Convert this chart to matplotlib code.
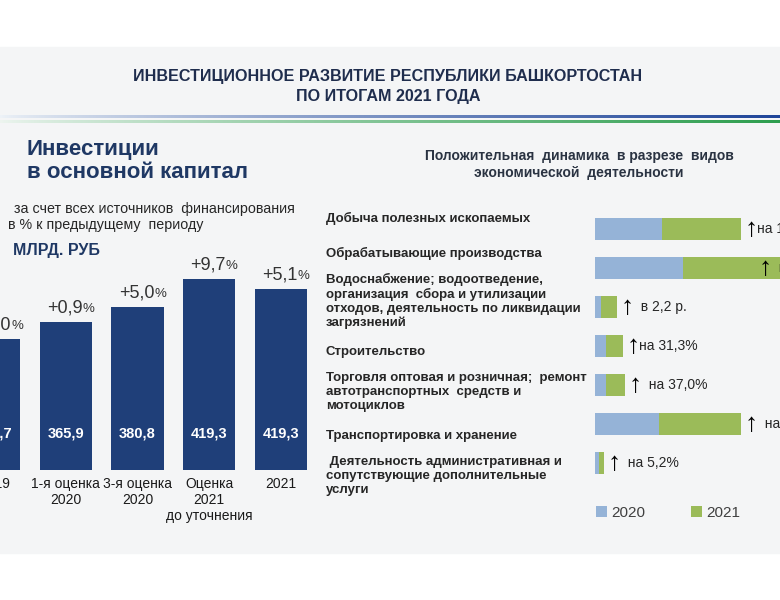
import numpy as np
import matplotlib
matplotlib.use('Agg')
import matplotlib.pyplot as plt
from matplotlib.patches import Rectangle

plt.rcParams['font.family'] = ['Liberation Sans', 'DejaVu Sans']

# Left chart: investments in fixed capital, bln RUB
years = ['2019', '1-я оценка\n2020', '3-я оценка\n2020', 'Оценка\n2021\nдо уточнения', '2021']
amounts = ['362,7', '365,9', '380,8', '419,3', '419,3']
growth = ['+2,0', '+0,9', '+5,0', '+9,7', '+5,1']
# bar levels as drawn on the slide (not to scale with the amounts)
bar_levels = [131, 148, 163, 191, 181]

# Right chart: industries, stacked 2020 / 2021 bars (slide units)
industries = ['Добыча полезных ископаемых',
              'Обрабатывающие производства',
              'Водоснабжение; водоотведение,\nорганизация  сбора и утилизации\nотходов, деятельность по ликвидации\nзагрязнений',
              'Строительство',
              'Торговля оптовая и розничная;  ремонт\nавтотранспортных  средств и\nмотоциклов',
              'Транспортировка и хранение',
              ' Деятельность административная и\nсопутствующие дополнительные\nуслуги']
vals_2020 = [67, 88, 6, 11, 11, 64, 4]
vals_2021 = [79, 150, 16, 17, 19, 82, 5]
change_text = ['на 18,0%', '  на 62,3%', '  в 2,2 р.', 'на 31,3%', '  на 37,0%', '  на 28,4%', '  на 5,2%']

W, H = 780, 600
fig = plt.figure(figsize=(7.8, 6), dpi=100)
fig.patch.set_facecolor('white')

# background axes in pixel coordinates
bg = fig.add_axes([0, 0, 1, 1])
bg.add_patch(Rectangle((0, 47), W, 506, color='#f4f5f6', zorder=0))

# gradient rules under the title
t = np.linspace(0, 1, 300) ** 0.8
for y0, y1, c0, c1 in [(115.5, 118.5, (0.93, 0.95, 0.97), (0.12, 0.27, 0.60)),
                       (121, 123.5, (0.93, 0.96, 0.94), (0.18, 0.62, 0.31))]:
    grad = np.array([[np.array(c0) * (1 - v) + np.array(c1) * v for v in t]])
    bg.imshow(grad, extent=(0, W, y1, y0), aspect='auto', zorder=1)
bg.set_xlim(0, W)
bg.set_ylim(H, 0)
bg.axis('off')

navy = '#1f2d4d'
bg.text(388, 77, 'ИНВЕСТИЦИОННОЕ РАЗВИТИЕ РЕСПУБЛИКИ БАШКОРТОСТАН', ha='center', va='center',
        fontsize=11.6, fontweight='bold', color=navy)
bg.text(388, 97, 'ПО ИТОГАМ 2021 ГОДА', ha='center', va='center',
        fontsize=11.6, fontweight='bold', color=navy)

bg.text(27, 150, 'Инвестиции', ha='left', va='center', fontsize=16, fontweight='bold', color='#1f3864')
bg.text(27, 173, 'в основной капитал', ha='left', va='center', fontsize=16, fontweight='bold', color='#1f3864')
bg.text(14, 209, 'за счет всех источников  финансирования', ha='left', va='center', fontsize=10.3, color='#262626')
bg.text(8, 225, 'в % к предыдущему  периоду', ha='left', va='center', fontsize=10.3, color='#262626')
bg.text(13, 250, 'МЛРД. РУБ', ha='left', va='center', fontsize=11.5, fontweight='bold', color='#1f3864')

bg.text(579, 156, 'Положительная  динамика  в разрезе  видов', ha='center', va='center',
        fontsize=10, fontweight='bold', color='#2a3342')
bg.text(579, 173, 'экономической  деятельности', ha='center', va='center',
        fontsize=10, fontweight='bold', color='#2a3342')

label_y = [219, 254, 280, 353, 379, 437, 463]
for lab, yy in zip(industries, label_y):
    bg.text(326, yy - 7, lab, ha='left', va='top', fontsize=9.5, fontweight='bold',
            color='#262626', linespacing=1.2)

# left bar chart
ax1 = fig.add_axes([-40 / W, 1 - 470 / H, 360 / W, 220 / H])
ax1.patch.set_alpha(0)
x = np.arange(len(years))
ax1.bar(x, bar_levels, width=0.73, color='#1f3f79')
ax1.set_xlim(-0.48, 4.55)
ax1.set_ylim(0, 220)
ax1.axis('off')
for i in x:
    ax1.text(i, 37, amounts[i], ha='center', va='center', color='white', fontsize=10.5, fontweight='bold')
    ax1.text(i, -7, years[i], ha='center', va='top', color='#1a1a1a', fontsize=10, linespacing=1.2)
    ax1.annotate(growth[i], xy=(i, bar_levels[i]), xytext=(12, 7), textcoords='offset points',
                 ha='right', va='baseline', fontsize=13, color='#333333')
    ax1.annotate('%', xy=(i, bar_levels[i]), xytext=(12, 7), textcoords='offset points',
                 ha='left', va='baseline', fontsize=9.5, color='#333333')

# right stacked bars
ax2 = fig.add_axes([595 / W, 1 - 482.5 / H, 305 / W, 273 / H])
ax2.patch.set_alpha(0)
y = np.arange(len(industries))
b1 = ax2.barh(y, vals_2020, height=0.54, color='#95b3d7', label='2020')
b2 = ax2.barh(y, vals_2021, left=vals_2020, height=0.54, color='#9bbb59', label='2021')
ax2.set_xlim(0, 305)
ax2.set_ylim(6.5, -0.5)
ax2.axis('off')
for i in y:
    end = min(vals_2020[i] + vals_2021[i], 160)
    ax2.annotate('↑', xy=(end, i), xytext=(7, 0), textcoords='offset points',
                 ha='center', va='center', fontsize=19, color='black')
    ax2.annotate(change_text[i], xy=(end, i), xytext=(11.5, 0), textcoords='offset points',
                 ha='left', va='center', fontsize=10, color='#262626')

ax2.legend(handles=[b1, b2], loc='center left', bbox_to_anchor=(596 / W, 1 - 513 / H),
           bbox_transform=fig.transFigure, ncol=2, frameon=False, handlelength=0.7,
           handleheight=0.7, handletextpad=0.3, columnspacing=3.0, fontsize=11,
           borderaxespad=0, borderpad=0, labelcolor='#404040')

plt.savefig('out.png', dpi=100)
plt.close()
